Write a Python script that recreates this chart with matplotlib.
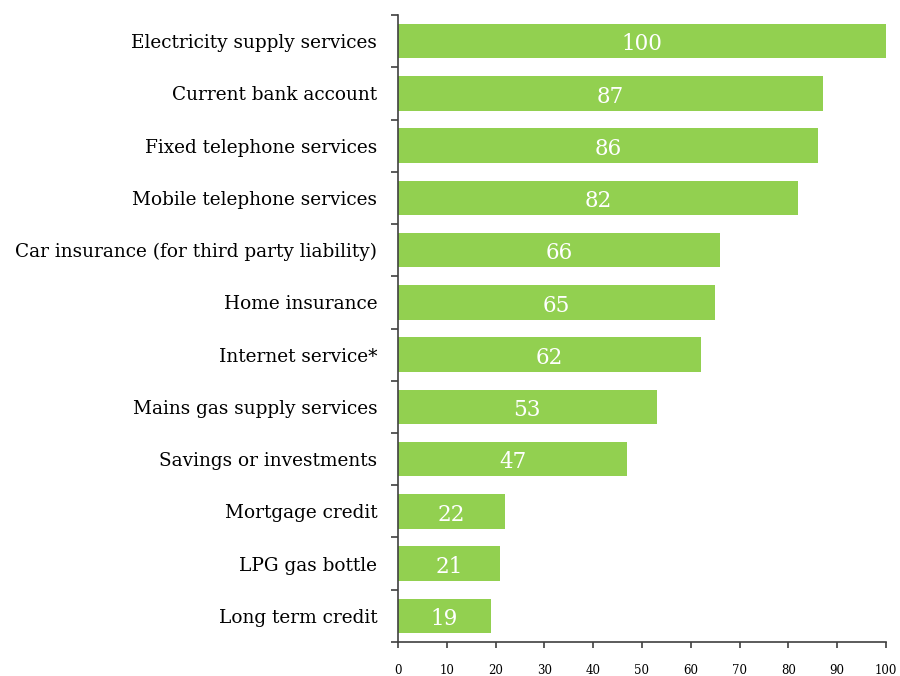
import matplotlib.pyplot as plt
import numpy as np
from matplotlib.ticker import MultipleLocator

services = [
    "Electricity supply services",
    "Current bank account",
    "Fixed telephone services",
    "Mobile telephone services",
    "Car insurance (for third party liability)",
    "Home insurance",
    "Internet service*",
    "Mains gas supply services",
    "Savings or investments",
    "Mortgage credit",
    "LPG gas bottle",
    "Long term credit",
]
scores = [100, 87, 86, 82, 66, 65, 62, 53, 47, 22, 21, 19]

bar_color = "#92D050"
axis_color = "#404040"
plt.rcParams["font.family"] = ["DejaVu Serif"]

fig = plt.figure(figsize=(9, 6.76), dpi=100)
ax = fig.add_axes([0.4422, 0.0503, 0.5422, 0.9275])

y = np.arange(len(services))
bars = ax.barh(y, scores, height=0.66, color=bar_color)

for b, v in zip(bars, scores):
    ax.text(b.get_width() / 2, b.get_y() + b.get_height() / 2 + 0.06, str(v),
            ha="center", va="center", color="white", fontsize=15.5)

ax.set_ylim(len(services) - 0.5, -0.5)
ax.set_xlim(0, 100)

ax.set_yticks(y)
ax.set_yticklabels(services, fontsize=13.3)
ax.set_yticks(np.arange(-0.5, len(services)), minor=True)
ax.tick_params(axis="y", which="major", length=0, pad=15)
ax.tick_params(axis="y", which="minor", length=5, width=1.2, color=axis_color)

ax.xaxis.set_major_locator(MultipleLocator(10))
ax.tick_params(axis="x", length=4, width=1.2, color=axis_color, pad=12,
               labelsize=8.5)

for side in ("top", "right"):
    ax.spines[side].set_visible(False)
for side in ("left", "bottom"):
    ax.spines[side].set_color(axis_color)
    ax.spines[side].set_linewidth(1.2)

fig.savefig("out.png", dpi=100)
